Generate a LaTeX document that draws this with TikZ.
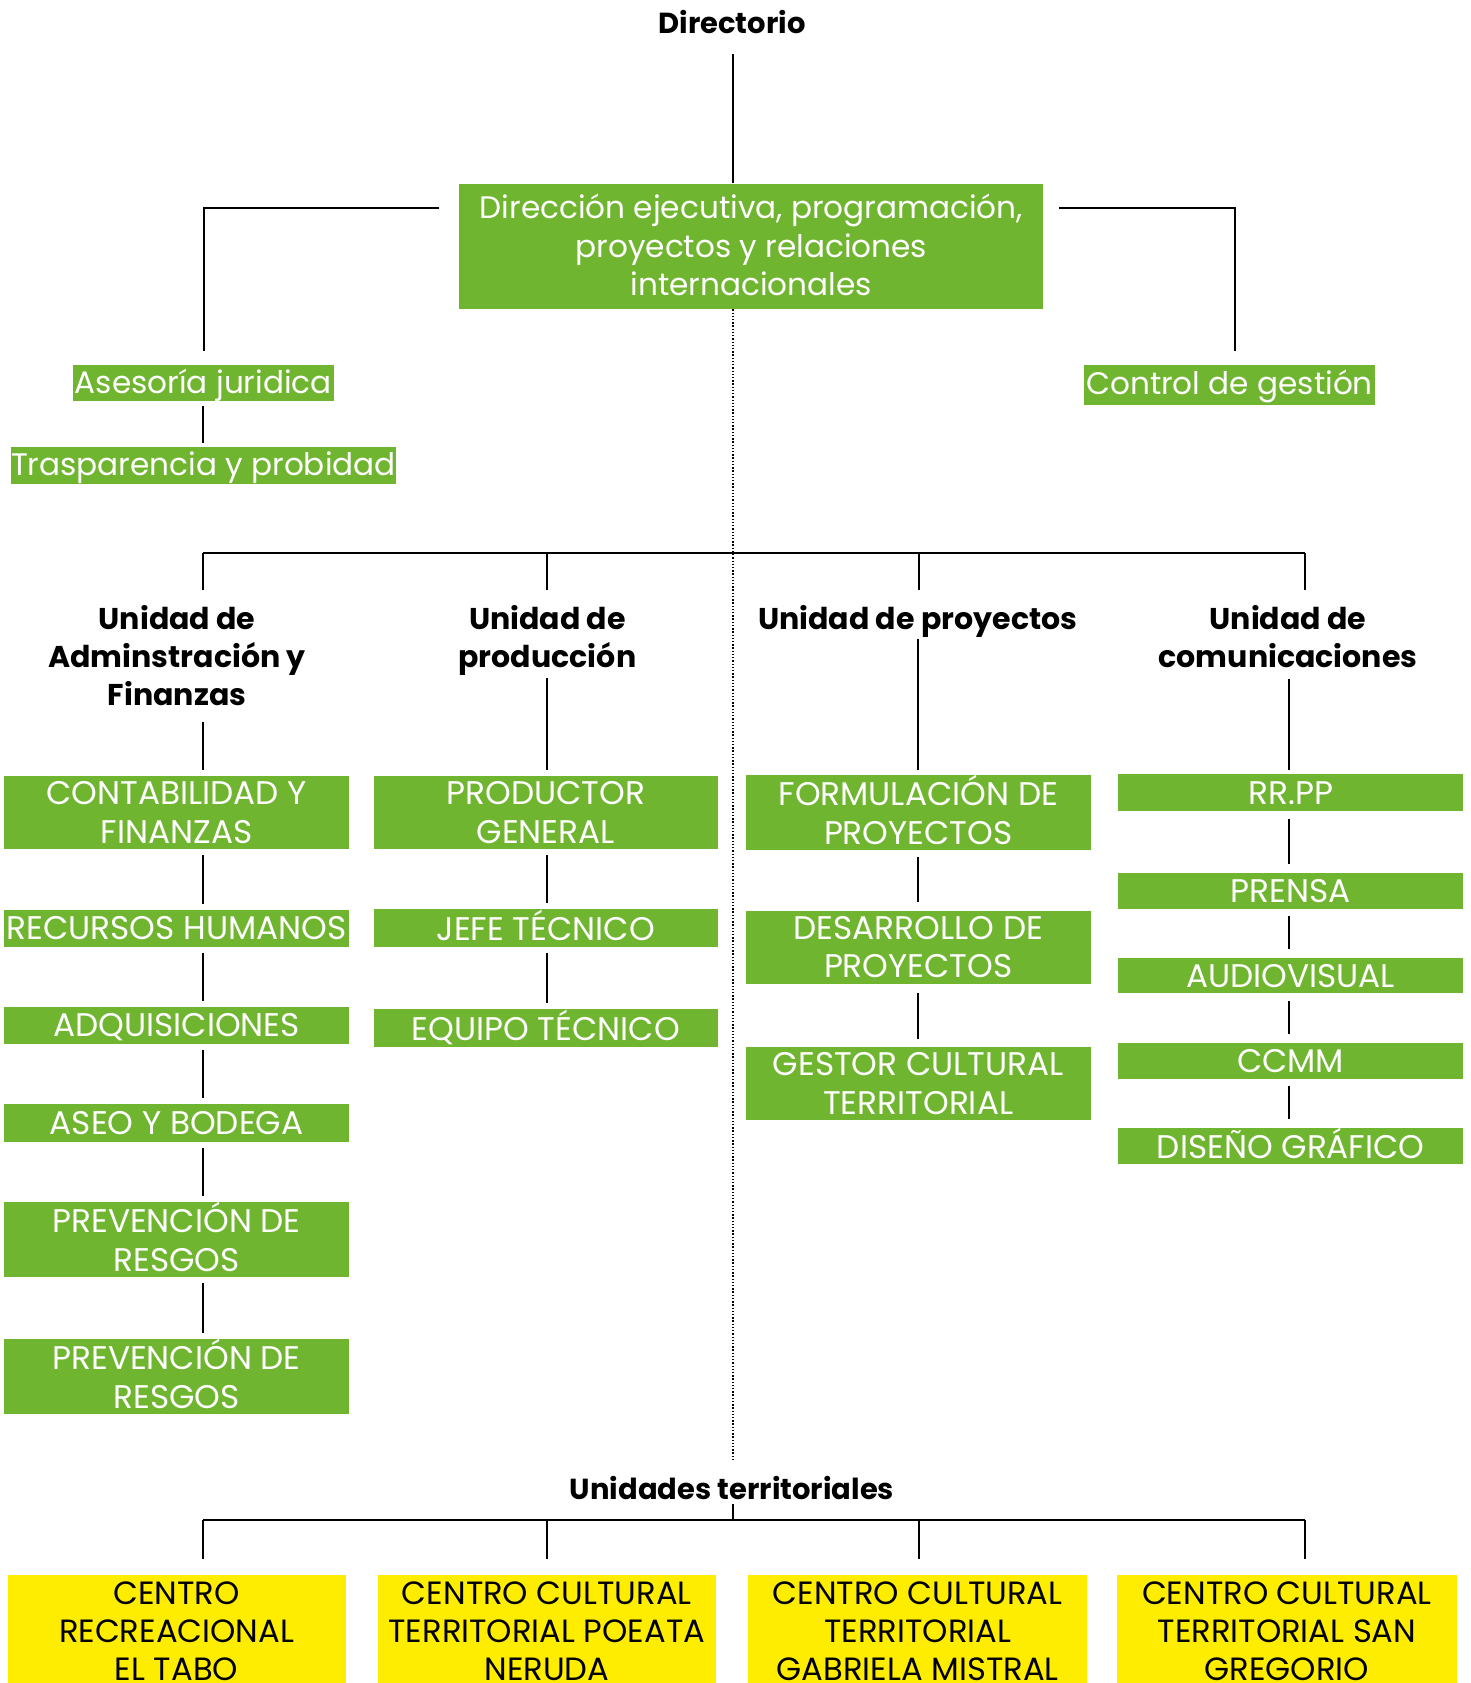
\documentclass[tikz,border=0pt]{standalone}
\usepackage{fontspec}
\setmainfont{Poppins}
\definecolor{gr}{RGB}{112,181,48}
\definecolor{yl}{RGB}{255,237,0}
\newcommand\gs{\rule[-5.4pt]{0pt}{32pt}}
\newcommand\ls{\rule[-5.9pt]{0pt}{32pt}}
\newcommand\hs{\rule[-8pt]{0pt}{35.5pt}}
\begin{document}
\begin{tikzpicture}[x=1pt,y=-1pt,
  gbox/.style={fill=gr,text=white,minimum width=321pt,inner sep=0pt,align=center,font=\fontsize{30.5}{36}\selectfont},
  lowr/.style={font=\fontsize{29}{36}\selectfont},
  one/.style={minimum height=35pt},
  onesm/.style={minimum height=33pt},
  two/.style={minimum height=68pt},
  ybox/.style={fill=yl,text=black,minimum width=315pt,minimum height=106pt,inner sep=0pt,align=center,font=\fontsize{30}{35.5}\selectfont},
  hdr/.style={font=\bfseries\fontsize{28}{35.5}\selectfont,align=center,inner sep=0pt},
  hdrs/.style={font=\bfseries\fontsize{27}{35.5}\selectfont,align=center,inner sep=0pt},
  ln/.style={line width=1.8pt},
  dotline/.style={line width=1.3pt,dash pattern=on 1.3pt off 1.7pt},
  gap/.style={ln,shorten <=5.5pt,shorten >=5.5pt},
  gapc/.style={ln,shorten <=7pt,shorten >=8pt}
]
\useasboundingbox (0,0) rectangle (1370,1568);

% top
\node[hdrs] (dir) at (682,21) {\hs Directorio};
\node[gbox,lowr,minimum width=544pt,minimum height=117pt] (main) at (700,229.5)
  {\ls Dirección ejecutiva, programación,\\\ls proyectos y relaciones\\\ls internacionales};
\coordinate (dtop) at (683,50);
\draw[ln] (dtop) -- (dtop |- main.north);

\node[gbox,lowr,minimum width=243pt,minimum height=34pt] (ases) at (189.5,357) {\ls Asesoría juridica};
\node[gbox,lowr,minimum width=359pt,minimum height=35pt] (trasp) at (189.5,433.5) {\ls Trasparencia y probidad};
\node[gbox,lowr,minimum width=271pt,minimum height=37pt] (ctrl) at (1145.5,358.5) {\ls Control de gestión};

\coordinate (bl) at (409,194);
\coordinate (blv) at (190,327);
\coordinate (br) at (987,194);
\coordinate (brv) at (1151,327);
\draw[ln] (bl) -| (blv);
\draw[ln] (br) -| (brv);
\draw[ln,shorten <=4pt,shorten >=3pt] (ases.south) -- (trasp.north);

% dotted spine
\coordinate (dbot) at (683,1362);
\draw[dotline] (main.south -| dtop) -- (dbot);

% bus to units
\coordinate (u1) at (189,515);
\coordinate (u2) at (510,515);
\coordinate (u3) at (856,515);
\coordinate (u4) at (1216,515);
\draw[ln] (u1) -- (u4);
\foreach \u in {u1,u2,u3,u4} \draw[ln] (\u) -- ++(0,35);

\node[hdr] (hadm) at (165,612) {\hs Unidad de\\\hs Adminstración y\\\hs Finanzas};
\node[hdr] (hprod) at (510,594.5) {\hs Unidad de\\\hs producción};
\node[hdr] (hproj) at (855,577) {\hs Unidad de proyectos};
\node[hdr] (hcom) at (1200,594.5) {\hs Unidad de\\\hs comunicaciones};

% column 1
\node[gbox,two] (contab) at (164.5,757) {\gs CONTABILIDAD Y\\\gs FINANZAS};
\node[gbox,one] (rrhh) at (164.5,865) {\gs RECURSOS HUMANOS};
\node[gbox,one] (adq) at (164.5,955.5) {\gs ADQUISICIONES};
\node[gbox,one] (aseo) at (164.5,1046.5) {\gs ASEO Y BODEGA};
\node[gbox,two] (prev1) at (164.5,1155) {\gs PREVENCIÓN DE\\\gs RESGOS};
\node[gbox,two] (prev2) at (164.5,1282.5) {\gs PREVENCIÓN DE\\\gs RESGOS};
\coordinate (t1) at (189,673);
\draw[ln,shorten >=5pt] (t1) -- (t1 |- contab.north);
\draw[gap] ([xshift=24.5pt]contab.south) -- ([xshift=24.5pt]rrhh.north);
\draw[gap] ([xshift=24.5pt]rrhh.south) -- ([xshift=24.5pt]adq.north);
\draw[gap] ([xshift=24.5pt]adq.south) -- ([xshift=24.5pt]aseo.north);
\draw[gap] ([xshift=24.5pt]aseo.south) -- ([xshift=24.5pt]prev1.north);
\draw[gap] ([xshift=24.5pt]prev1.south) -- ([xshift=24.5pt]prev2.north);

% column 2
\node[gbox,two] (prodg) at (508.5,757) {\gs PRODUCTOR\\\gs GENERAL};
\node[gbox,one] (jefe) at (508.5,864.5) {\gs JEFE TÉCNICO};
\node[gbox,one] (equipo) at (508.5,957.5) {\gs EQUIPO TÉCNICO};
\coordinate (t2) at (510,632);
\draw[ln,shorten >=5pt] (t2) -- (t2 |- prodg.north);
\draw[gap] ([xshift=1.5pt]prodg.south) -- ([xshift=1.5pt]jefe.north);
\draw[gap] ([xshift=1.5pt]jefe.south) -- ([xshift=1.5pt]equipo.north);

% column 3
\node[gbox,two] (form) at (855.5,757) {\gs FORMULACIÓN DE\\\gs PROYECTOS};
\node[gbox,two] (desa) at (855.5,882.5) {\gs DESARROLLO DE\\\gs PROYECTOS};
\node[gbox,two] (gest) at (855.5,1009.5) {\gs GESTOR CULTURAL\\\gs TERRITORIAL};
\coordinate (t3) at (855,595);
\draw[ln,shorten >=5pt] (t3) -- (t3 |- form.north);
\draw[ln,shorten <=6pt,shorten >=8pt] (form.south) -- (desa.north);
\draw[ln,shorten <=8pt,shorten >=7pt] (desa.south) -- (gest.north);

% column 4
\node[gbox,one] (rrpp) at (1202.5,738.5) {\gs RR.PP};
\node[gbox,onesm] (prensa) at (1202.5,830) {\gs PRENSA};
\node[gbox,onesm] (audio) at (1202.5,909) {\gs AUDIOVISUAL};
\node[gbox,onesm] (ccmm) at (1202.5,988.5) {\gs CCMM};
\node[gbox,onesm] (dise) at (1202.5,1067.5) {\gs DISEÑO GRÁFICO};
\coordinate (t4) at (1201,633);
\draw[ln,shorten >=3pt] (t4) -- (t4 |- rrpp.north);
\draw[gapc] ([xshift=-1.5pt]rrpp.south) -- ([xshift=-1.5pt]prensa.north);
\draw[gapc] ([xshift=-1.5pt]prensa.south) -- ([xshift=-1.5pt]audio.north);
\draw[gapc] ([xshift=-1.5pt]audio.south) -- ([xshift=-1.5pt]ccmm.north);
\draw[gapc] ([xshift=-1.5pt]ccmm.south) -- ([xshift=-1.5pt]dise.north);

% territorial units
\node[hdrs] (uter) at (682,1387) {\hs Unidades territoriales};
\coordinate (ut) at (683,1401);
\coordinate (v1) at (189,1416);
\coordinate (v2) at (510,1416);
\coordinate (v3) at (856,1416);
\coordinate (v4) at (1216,1416);
\draw[ln] (ut) -- (ut |- v1);
\draw[ln] (v1) -- (v4);
\foreach \v in {v1,v2,v3,v4} \draw[ln] (\v) -- ++(0,36);

\node[ybox] (y1) at (164.5,1520) {\gs CENTRO\\\gs RECREACIONAL\\\gs EL TABO};
\node[ybox] (y2) at (509.5,1520) {\gs CENTRO CULTURAL\\\gs TERRITORIAL POEATA\\\gs NERUDA};
\node[ybox,minimum width=316pt] (y3) at (855,1520) {\gs CENTRO CULTURAL\\\gs TERRITORIAL\\\gs GABRIELA MISTRAL};
\node[ybox,minimum width=316pt] (y4) at (1199,1520) {\gs CENTRO CULTURAL\\\gs TERRITORIAL SAN\\\gs GREGORIO};
\end{tikzpicture}
\end{document}
